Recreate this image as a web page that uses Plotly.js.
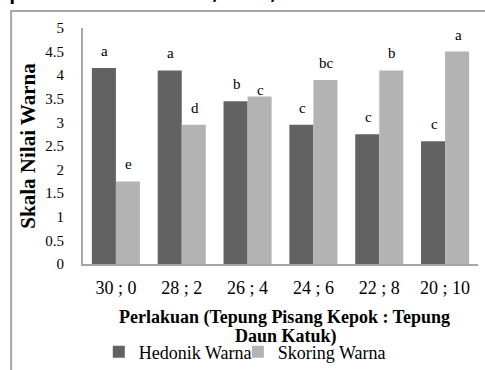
<!DOCTYPE html>
<html>
<head>
<meta charset="utf-8">
<script src="https://cdn.plot.ly/plotly-3.0.1.min.js"></script>
<style>html,body{margin:0;padding:0;background:#fff;}#chart{width:485px;height:370px;}</style>
</head>
<body>
<div id="chart"></div>
<script>
var categories = ["30 ; 0", "28 ; 2", "26 ; 4", "24 ; 6", "22 ; 8", "20 ; 10"];
var hedonikWarna = [4.15, 4.10, 3.45, 2.95, 2.75, 2.60];
var skoringWarna = [1.75, 2.95, 3.55, 3.90, 4.10, 4.50];
var hedonikLetters = ["a", "a", "b", "c", "c", "c"];
var skoringLetters = ["e", "d", "c", "bc", "b", "a"];
var yTickVals = [0, 0.5, 1, 1.5, 2, 2.5, 3, 3.5, 4, 4.5, 5];
var xTitleLines = ["Perlakuan (Tepung Pisang Kepok : Tepung", "Daun Katuk)"];

var serif = "Liberation Serif";
var bargap = 0.27;
var half = (1 - bargap) / 4;

var traces = [
  {type: "bar", name: "Hedonik Warna", x: categories, y: hedonikWarna,
   marker: {color: "#626262"}, legend: "legend"},
  {type: "bar", name: "Skoring Warna", x: categories, y: skoringWarna,
   marker: {color: "#b3b3b3"}, legend: "legend2"}
];

var annotations = [];
function addLetters(vals, letters, off, special) {
  for (var i = 0; i < vals.length; i++) {
    var shift = 17;
    if (special && special[i] !== undefined) shift = special[i];
    annotations.push({x: i + off, y: vals[i], xref: "x", yref: "y", text: letters[i],
      showarrow: false, yanchor: "middle", yshift: shift, xshift: 1,
      font: {family: serif, size: 15, color: "#000"}});
  }
}
addLetters(hedonikWarna, hedonikLetters, -half);
addLetters(skoringWarna, skoringLetters, half, {2: 6});

// x-axis title (two lines, tight line spacing as in the original)
annotations.push({x: 0.509, y: -0.2288, xref: "paper", yref: "paper", xanchor: "center", yanchor: "middle",
  text: "<b>" + xTitleLines[0] + "</b>", showarrow: false, font: {family: serif, size: 18, color: "#000"}});
annotations.push({x: 0.515, y: -0.3093, xref: "paper", yref: "paper", xanchor: "center", yanchor: "middle",
  text: "<b>" + xTitleLines[1] + "</b>", showarrow: false, font: {family: serif, size: 18, color: "#000"}});

annotations.push({x: -0.195, y: 1.09, xref: "paper", yref: "paper", xanchor: "left", yanchor: "bottom",
  text: "perlakuan P1, P2, dan P3.", showarrow: false,
  font: {family: "DejaVu Sans", size: 31, color: "#000"}});

var legendBase = {orientation: "h", xref: "container", yref: "container", xanchor: "left",
  y: 0.0486, yanchor: "middle",
  font: {family: serif, size: 18, color: "#000"}, bgcolor: "rgba(0,0,0,0)", itemclick: false};

var layout = {
  width: 485, height: 370,
  margin: {l: 83, r: 7, t: 28, b: 106},
  paper_bgcolor: "#fff", plot_bgcolor: "#fff",
  barmode: "group", bargap: bargap, bargroupgap: 0,
  font: {family: serif, color: "#000"},
  xaxis: {
    type: "category", showgrid: false, zeroline: false,
    showline: true, linecolor: "#a6a6a6", linewidth: 2,
    ticks: "", ticklabelstandoff: 6,
    tickfont: {family: serif, size: 18, color: "#000"},
    automargin: false
  },
  yaxis: {
    range: [0, 5], tickvals: yTickVals, showgrid: false, zeroline: false,
    showline: true, linecolor: "#a6a6a6", linewidth: 2,
    ticks: "", ticklabelstandoff: 14,
    tickfont: {family: serif, size: 15, color: "#000"},
    title: {text: "<b>Skala Nilai Warna</b>", font: {family: serif, size: 21, color: "#000"}, standoff: 4},
    automargin: false
  },
  showlegend: true,
  legend: Object.assign({}, legendBase, {x: 0.2037}),
  legend2: Object.assign({}, legendBase, {x: 0.4904}),
  annotations: annotations,
  shapes: [{type: "rect", xref: "paper", yref: "paper", x0: -0.182, x1: 1.2, y0: -0.6, y1: 1.072,
    line: {color: "#a6a6a6", width: 2}, fillcolor: "rgba(0,0,0,0)", layer: "above"}]
};

Plotly.newPlot("chart", traces, layout, {staticPlot: true, displayModeBar: false});
</script>
</body>
</html>
